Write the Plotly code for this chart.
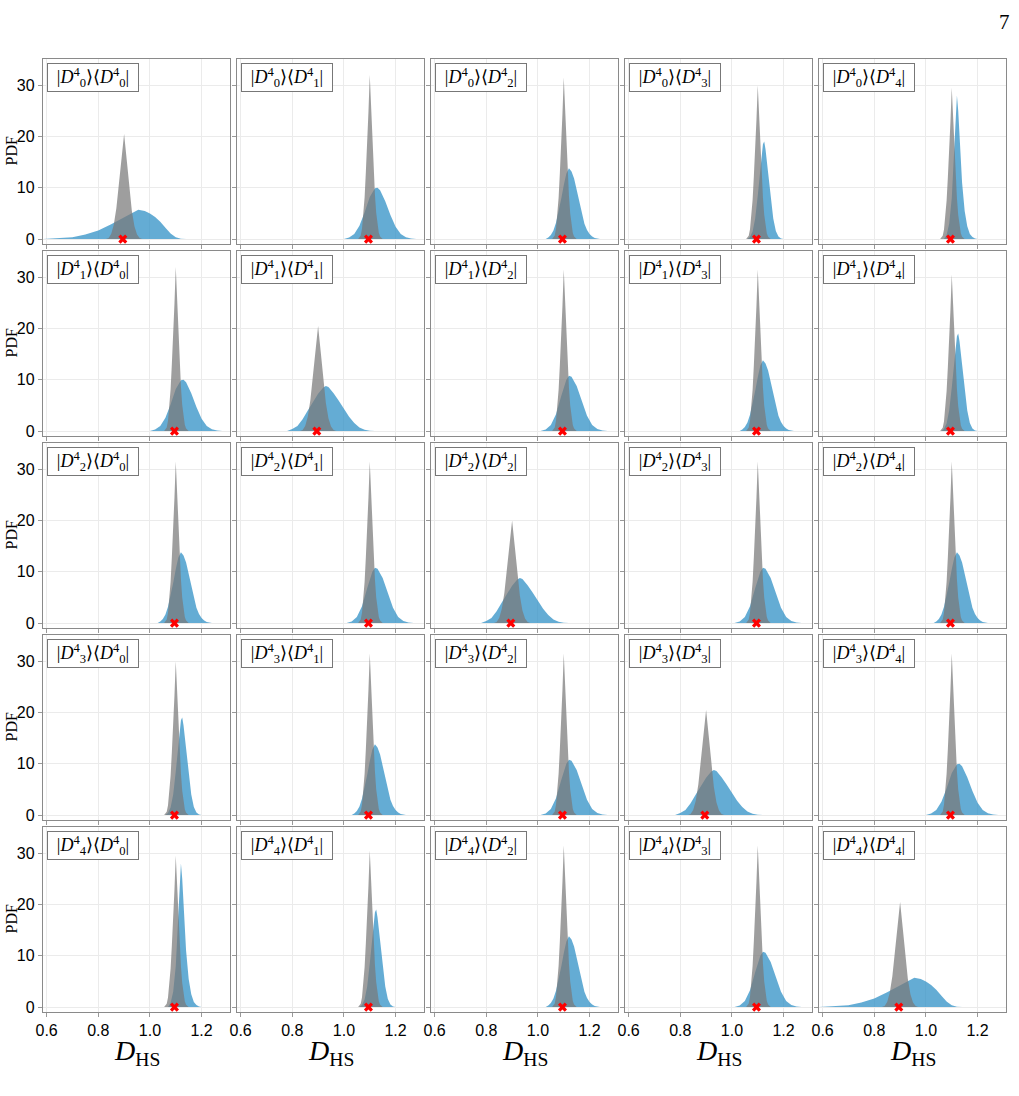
import plotly.graph_objects as go

# ---------------- data ----------------
x_ticks = [0.6, 0.8, 1.0, 1.2]
x_tick_text = ["0.6", "0.8", "1.0", "1.2"]
y_ticks = [0, 10, 20, 30]
y_tick_text = ["0", "10", "20", "30"]
state_idx = [0, 1, 2, 3, 4]

# gray distribution, off-diagonal panels (template, peak 31.5)
gray_off_x = [1.055, 1.065, 1.07, 1.075, 1.08, 1.085, 1.09, 1.095, 1.10, 1.105, 1.11,
              1.115, 1.12, 1.125, 1.13, 1.135, 1.14, 1.15]
gray_off_y = [0, 0.7, 2.0, 4.5, 8.0, 13.0, 18.0, 24.5, 31.5, 25.0, 19.0,
              13.5, 8.5, 5.0, 2.6, 1.2, 0.5, 0]
# gray distribution, diagonal panels (template, peak 20.5)
gray_diag_x = [0.83, 0.84, 0.85, 0.86, 0.87, 0.88, 0.89, 0.90, 0.91, 0.92, 0.93,
               0.94, 0.95, 0.96, 0.97]
gray_diag_y = [0, 0.2, 1.0, 2.8, 6.0, 10.5, 16.0, 20.5, 15.5, 10.0, 5.5,
               2.5, 0.9, 0.2, 0]

# blue distributions
blue_A_x = [1.00, 1.02, 1.04, 1.06, 1.08, 1.10, 1.12, 1.13, 1.14, 1.16, 1.18, 1.20,
            1.22, 1.24, 1.26, 1.28]
blue_A_y = [0, 0.3, 1.0, 2.6, 5.2, 8.2, 9.9, 10.0, 9.5, 7.4, 4.7, 2.4,
            1.0, 0.35, 0.1, 0]
blue_B_x = [1.01, 1.03, 1.05, 1.07, 1.09, 1.11, 1.12, 1.13, 1.15, 1.17, 1.19, 1.21,
            1.23, 1.25, 1.27]
blue_B_y = [0, 0.3, 1.2, 3.3, 6.8, 10.0, 10.8, 10.6, 8.8, 5.8, 3.0, 1.2,
            0.4, 0.1, 0]
blue_C_x = [1.03, 1.04, 1.05, 1.06, 1.07, 1.08, 1.09, 1.10, 1.11, 1.12, 1.13, 1.14,
            1.15, 1.16, 1.17, 1.18, 1.19, 1.20, 1.21, 1.22, 1.24]
blue_C_y = [0, 0.3, 0.8, 1.7, 3.2, 5.2, 7.8, 10.5, 12.8, 13.8, 13.2, 11.8,
            9.5, 7.0, 4.8, 3.0, 1.8, 1.0, 0.5, 0.2, 0]
blue_D_x = [1.06, 1.07, 1.08, 1.09, 1.10, 1.11, 1.12, 1.125, 1.13, 1.14, 1.15, 1.16,
            1.17, 1.18, 1.19, 1.20]
blue_D_y = [0, 0.4, 1.5, 4.0, 8.5, 14.0, 18.5, 19.0, 17.5, 13.0, 8.0, 4.0,
            1.6, 0.5, 0.1, 0]
blue_E_x = [1.07, 1.08, 1.09, 1.10, 1.105, 1.11, 1.115, 1.12, 1.125, 1.13, 1.14, 1.15,
            1.16, 1.17, 1.18, 1.19, 1.20]
blue_E_y = [0, 0.8, 3.0, 8.0, 13.0, 19.0, 25.0, 28.0, 25.0, 19.5, 11.0, 5.5,
            2.5, 1.0, 0.4, 0.1, 0]
blue_W_x = [0.58, 0.60, 0.65, 0.70, 0.75, 0.80, 0.85, 0.90, 0.93, 0.955, 0.98, 1.00,
            1.02, 1.04, 1.06, 1.08, 1.10, 1.12, 1.14]
blue_W_y = [0, 0.05, 0.15, 0.35, 0.9, 1.7, 2.9, 4.3, 5.1, 5.7, 5.5, 5.0,
            4.3, 3.4, 2.2, 1.1, 0.35, 0.05, 0]
blue_M_x = [0.78, 0.80, 0.82, 0.84, 0.86, 0.88, 0.90, 0.92, 0.93, 0.94, 0.96, 0.98,
            1.00, 1.02, 1.04, 1.06, 1.08, 1.10, 1.12]
blue_M_y = [0, 0.4, 1.0, 2.3, 4.0, 5.8, 7.3, 8.5, 8.8, 8.6, 7.4, 5.9,
            4.4, 2.8, 1.6, 0.7, 0.25, 0.05, 0]

# which blue shape each panel (row i, column j) shows
blue_kind = [
    ["W", "A", "C", "D", "E"],
    ["A", "M", "B", "C", "D"],
    ["C", "B", "M", "B", "C"],
    ["D", "C", "B", "M", "A"],
    ["E", "D", "C", "B", "W"],
]
# gray peak height of each panel
gray_peak = [
    [20.5, 32.0, 31.5, 30.0, 29.5],
    [32.0, 20.5, 31.5, 31.5, 30.5],
    [31.5, 31.5, 20.0, 31.5, 31.5],
    [30.0, 31.5, 31.5, 20.5, 31.5],
    [29.5, 30.5, 31.5, 31.5, 20.5],
]
# red cross (exact value) positions
marker_diag = 0.895
marker_off = 1.095

# ---------------- figure ----------------
blue_shapes = {
    "A": (blue_A_x, blue_A_y), "B": (blue_B_x, blue_B_y), "C": (blue_C_x, blue_C_y),
    "D": (blue_D_x, blue_D_y), "E": (blue_E_x, blue_E_y), "W": (blue_W_x, blue_W_y),
    "M": (blue_M_x, blue_M_y),
}

W, H = 1019, 1096
col_left = [43, 237, 431, 625, 819]
row_top = [59, 251, 443, 635, 827]
pw, ph = 187, 185

SERIF = "Liberation Serif, DejaVu Serif, serif"
SANS = "Liberation Sans, Arial, sans-serif"
BLUE = "rgba(40,140,195,0.72)"
GRAY = "rgba(120,120,120,0.72)"

fig = go.Figure()
layout = dict(
    template="none",
    width=W, height=H, margin=dict(l=0, r=0, t=0, b=0, pad=0, autoexpand=False),
    paper_bgcolor="white", plot_bgcolor="white", showlegend=False,
)
annotations = []

for i in state_idx:
    for j in state_idx:
        k = i * 5 + j + 1
        sx = "" if k == 1 else str(k)
        xa, ya = "x" + sx, "y" + sx

        bx, by = blue_shapes[blue_kind[i][j]]
        fig.add_trace(go.Scatter(x=bx, y=by, mode="lines", fill="tozeroy",
                                 fillcolor=BLUE, line=dict(width=0, color=BLUE),
                                 xaxis=xa, yaxis=ya, hoverinfo="skip"))
        if i == j:
            gx, gy, gref = gray_diag_x, gray_diag_y, 20.5
            mx = marker_diag
        else:
            gx, gy, gref = gray_off_x, gray_off_y, 31.5
            mx = marker_off
        scale = gray_peak[i][j] / gref
        fig.add_trace(go.Scatter(x=gx, y=[v * scale for v in gy], mode="lines",
                                 fill="tozeroy", fillcolor=GRAY,
                                 line=dict(width=0, color=GRAY),
                                 xaxis=xa, yaxis=ya, hoverinfo="skip"))
        fig.add_trace(go.Scatter(x=[mx], y=[0], mode="markers",
                                 marker=dict(symbol="x", size=8, color="red",
                                             line=dict(width=0)),
                                 xaxis=xa, yaxis=ya, hoverinfo="skip"))

        L = col_left[j]
        T = row_top[i]
        common = dict(
            ticks="outside", ticklen=4, tickcolor="#999", tickwidth=1,
            showline=True, linecolor="#8a8a8a", linewidth=1.3, mirror=True,
            showgrid=True, gridcolor="#ebebeb", gridwidth=1, zeroline=False,
            automargin=False,
            tickfont=dict(family=SANS, size=16, color="black"),
        )
        layout["xaxis" + sx] = dict(
            domain=[L / W, (L + pw) / W], anchor=ya, range=[0.586, 1.31],
            tickvals=x_ticks, ticktext=x_tick_text, showticklabels=(i == 4),
            **common,
        )
        layout["yaxis" + sx] = dict(
            domain=[1 - (T + ph) / H, 1 - T / H], anchor=xa, range=[-0.95, 35.1],
            tickvals=y_ticks, ticktext=y_tick_text, showticklabels=(j == 0),
            **common,
        )
        # legend-like label box
        annotations.append(dict(
            xref=xa + " domain", yref=ya + " domain", x=4 / pw, y=1 - 4 / ph,
            xanchor="left", yanchor="top", showarrow=False,
            text=f"|<i>D</i><sup>4</sup><sub>{i}</sub>⟩⟨<i>D</i><sup>4</sup><sub>{j}</sub>|",
            font=dict(family=SERIF, size=18, color="black"),
            bgcolor="white", bordercolor="#777", borderwidth=1, borderpad=3,
            width=84, height=21,
        ))
        if j == 0:
            annotations.append(dict(
                xref="paper", yref="paper", x=11 / W, y=1 - (T + ph / 2) / H,
                xanchor="center", yanchor="middle", showarrow=False, textangle=-90,
                text="PDF", font=dict(family=SERIF, size=16, color="black"),
            ))
        if i == 4:
            annotations.append(dict(
                xref="paper", yref="paper", x=(L + pw / 2) / W, y=1 - 1052 / H,
                xanchor="center", yanchor="middle", showarrow=False,
                text="<i>D</i><sub>HS</sub>",
                font=dict(family=SERIF, size=28, color="black"),
            ))

annotations.append(dict(
    xref="paper", yref="paper", x=1012 / W, y=1 - 22 / H, xanchor="right",
    yanchor="middle", showarrow=False, text="7",
    font=dict(family=SERIF, size=21, color="black"),
))
layout["annotations"] = annotations
fig.update_layout(**layout)
fig.write_html("out.html")
